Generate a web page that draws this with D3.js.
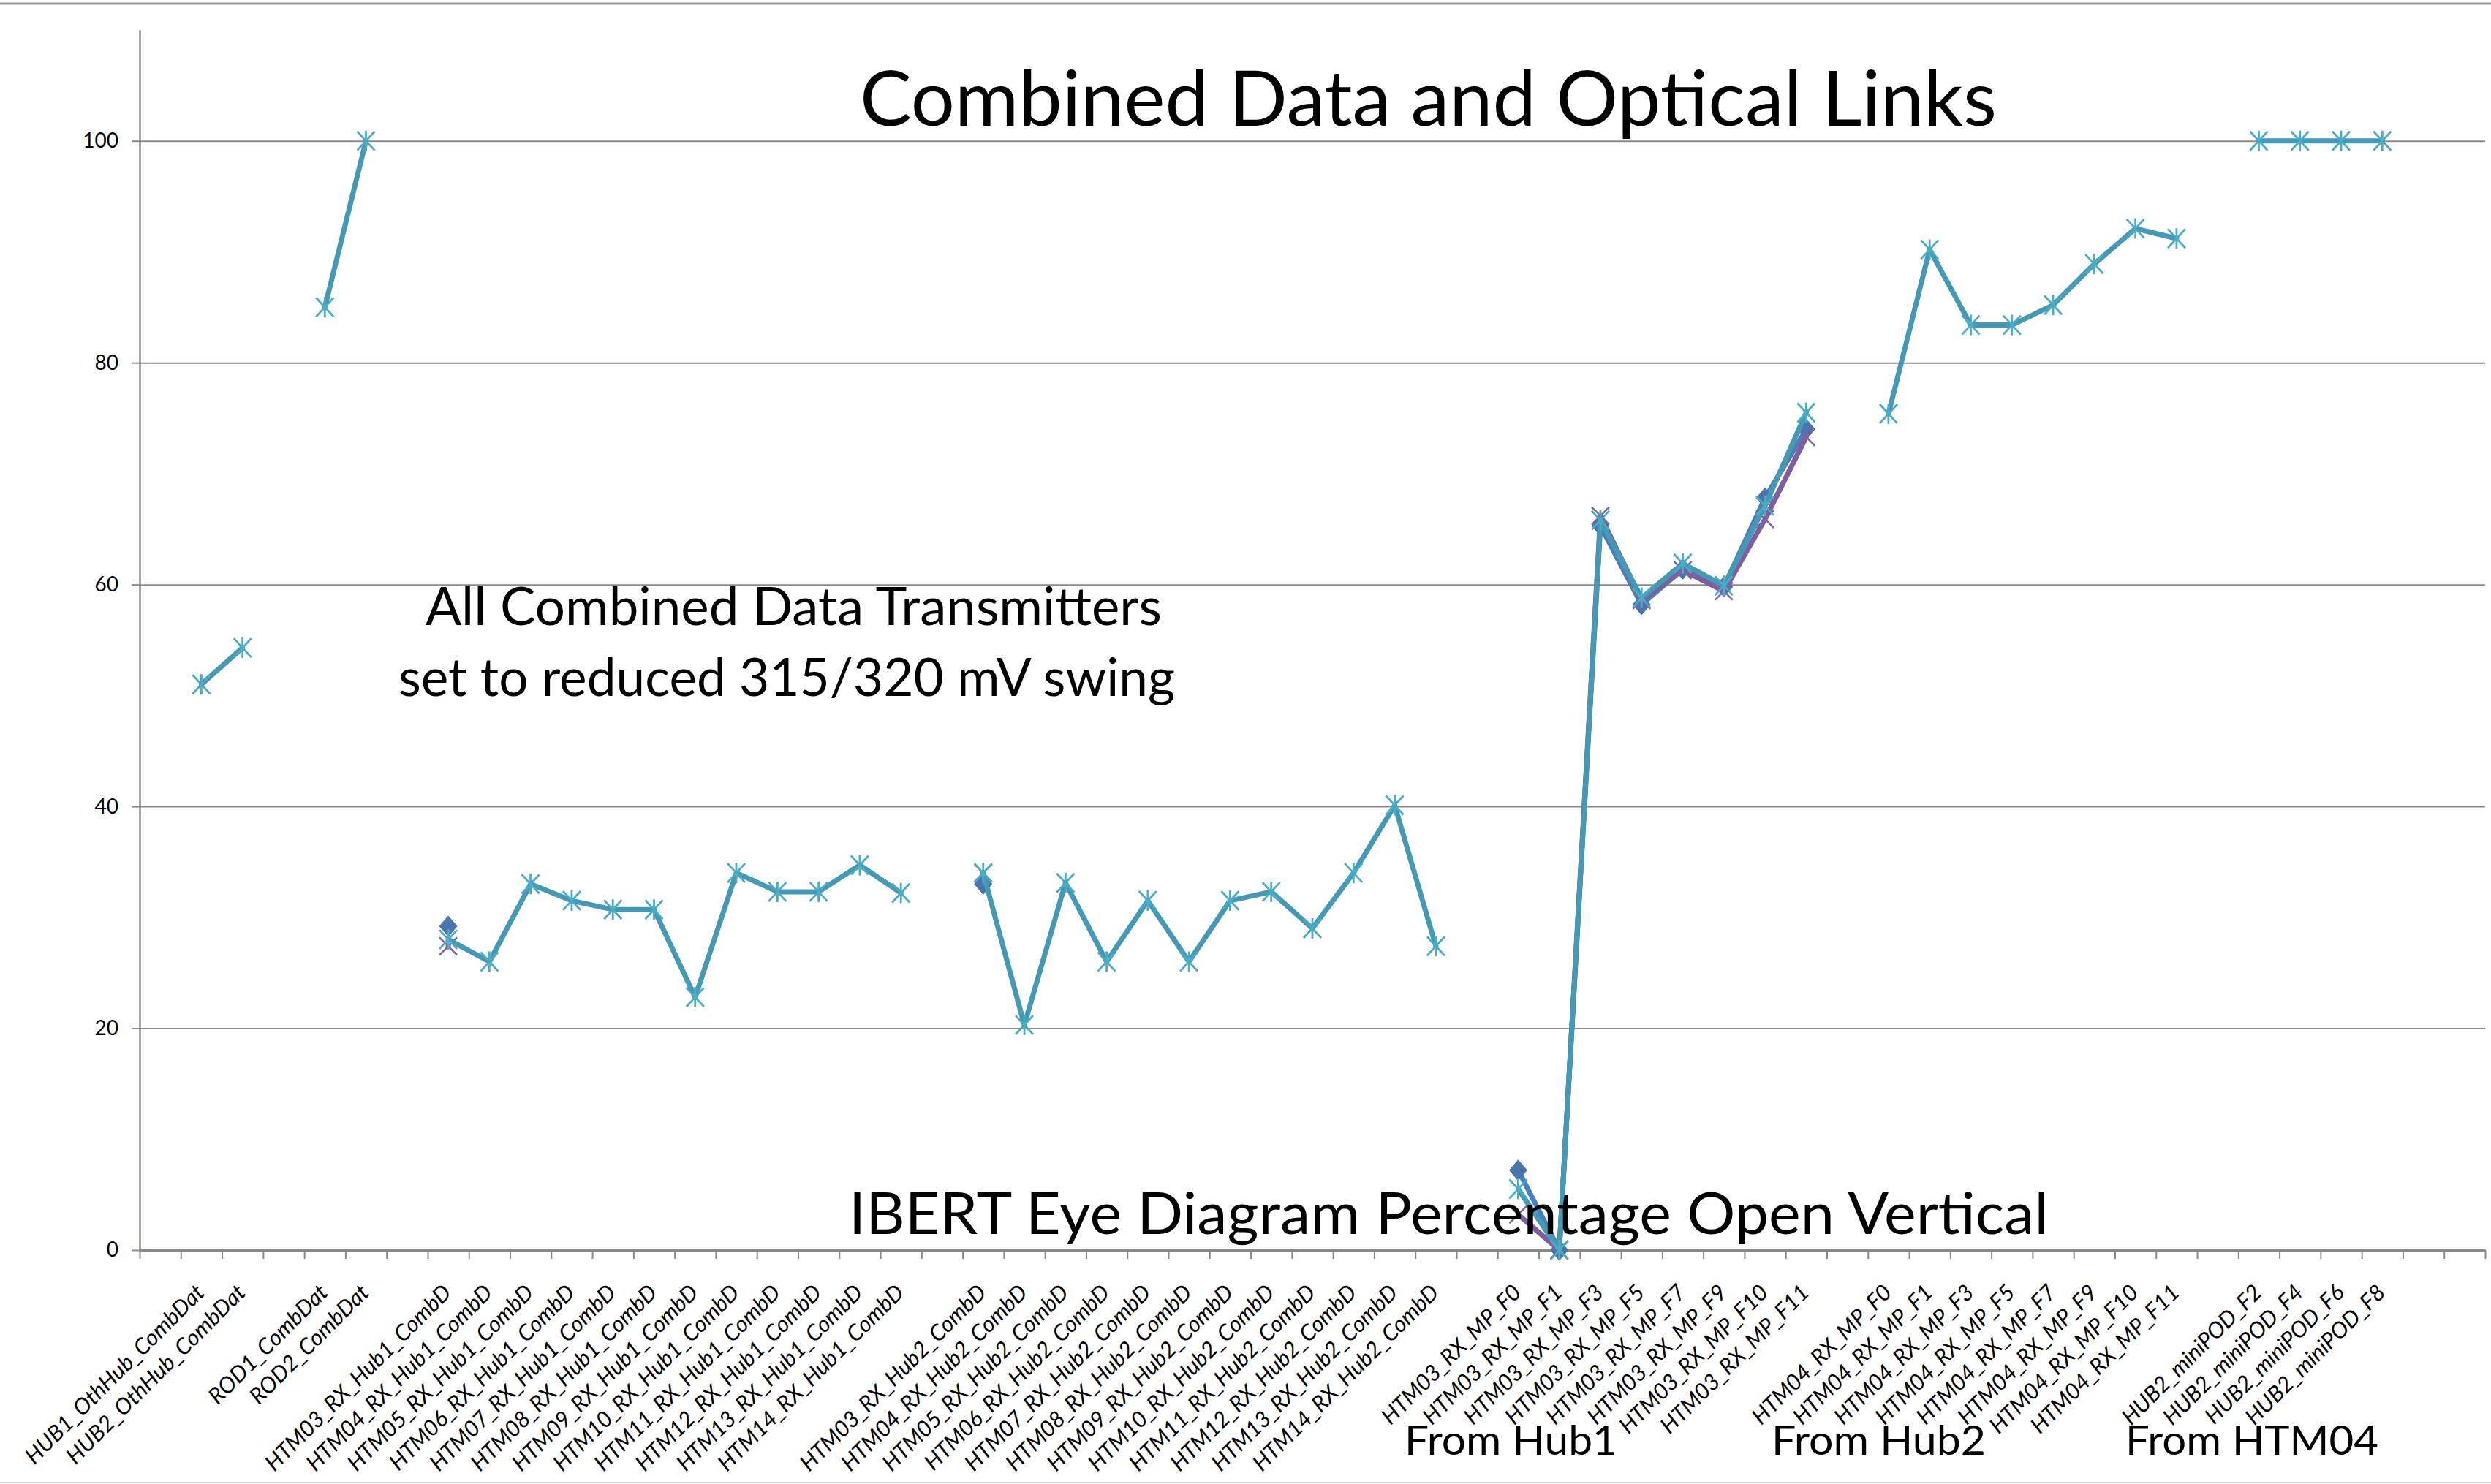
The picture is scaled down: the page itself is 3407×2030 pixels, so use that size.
<!DOCTYPE html>
<html><head><meta charset="utf-8">
<script src="https://cdn.jsdelivr.net/npm/d3@7"></script>
<style>html,body{margin:0;padding:0;background:#fff;overflow:hidden;} svg{display:block;}</style>
</head><body>
<svg id="chart" width="3407" height="2030"></svg>
<script>
// ---------------- DATA ----------------
const categories = [
  "", "HUB1_OthHub_CombDat", "HUB2_OthHub_CombDat", "", "ROD1_CombDat", "ROD2_CombDat", "",
  "HTM03_RX_Hub1_CombD", "HTM04_RX_Hub1_CombD", "HTM05_RX_Hub1_CombD", "HTM06_RX_Hub1_CombD",
  "HTM07_RX_Hub1_CombD", "HTM08_RX_Hub1_CombD", "HTM09_RX_Hub1_CombD", "HTM10_RX_Hub1_CombD",
  "HTM11_RX_Hub1_CombD", "HTM12_RX_Hub1_CombD", "HTM13_RX_Hub1_CombD", "HTM14_RX_Hub1_CombD", "",
  "HTM03_RX_Hub2_CombD", "HTM04_RX_Hub2_CombD", "HTM05_RX_Hub2_CombD", "HTM06_RX_Hub2_CombD",
  "HTM07_RX_Hub2_CombD", "HTM08_RX_Hub2_CombD", "HTM09_RX_Hub2_CombD", "HTM10_RX_Hub2_CombD",
  "HTM11_RX_Hub2_CombD", "HTM12_RX_Hub2_CombD", "HTM13_RX_Hub2_CombD", "HTM14_RX_Hub2_CombD", "",
  "HTM03_RX_MP_F0", "HTM03_RX_MP_F1", "HTM03_RX_MP_F3", "HTM03_RX_MP_F5", "HTM03_RX_MP_F7",
  "HTM03_RX_MP_F9", "HTM03_RX_MP_F10", "HTM03_RX_MP_F11", "",
  "HTM04_RX_MP_F0", "HTM04_RX_MP_F1", "HTM04_RX_MP_F3", "HTM04_RX_MP_F5", "HTM04_RX_MP_F7",
  "HTM04_RX_MP_F9", "HTM04_RX_MP_F10", "HTM04_RX_MP_F11", "",
  "HUB2_miniPOD_F2", "HUB2_miniPOD_F4", "HUB2_miniPOD_F6", "HUB2_miniPOD_F8", "", ""
];

// Series 5 (aqua, star markers)
const starSeries = [
  null, 51.0, 54.3, null, 85.0, 100, null,
  28.0, 26.0, 33.0, 31.5, 30.7, 30.7, 22.8, 34.0, 32.3, 32.3, 34.7, 32.2, null,
  34.0, 20.3, 33.1, 26.0, 31.5, 26.0, 31.5, 32.3, 29.0, 34.0, 40.1, 27.4, null,
  5.5, 0, 65.8, 58.8, 61.9, 59.9, 67.1, 75.5, null,
  75.4, 90.2, 83.4, 83.4, 85.2, 88.9, 92.1, 91.2, null,
  100, 100, 100, 100, null, null
];

// Series 1 (blue, diamond markers)
const diamondSeries = [
  null, null, null, null, null, null, null,
  29.2, null, null, null, null, null, null, null, null, null, null, null, null,
  33.0, null, null, null, null, null, null, null, null, null, null, null, null,
  7.2, 0, 65.3, 58.2, 61.4, 59.8, 67.8, 74.0, null,
  null, null, null, null, null, null, null, null, null,
  null, null, null, null, null, null
];

// Series 4 (purple, x markers)
const crossSeries = [
  null, null, null, null, null, null, null,
  27.4, null, null, null, null, null, null, null, null, null, null, null, null,
  34.0, null, null, null, null, null, null, null, null, null, null, null, null,
  3.2, 0, 66.2, 58.6, 61.3, 59.4, 65.9, 73.3, null,
  null, null, null, null, null, null, null, null, null,
  null, null, null, null, null, null
];

const yTicks = [0, 20, 40, 60, 80, 100];
const yMax = 110;
const titleText = "Combined Data and Optical Links";
const noteLines = ["All Combined Data Transmitters", "set to reduced 315/320 mV swing"];
const axisTitleText = "IBERT Eye Diagram Percentage Open Vertical";
const groupLabels = ["From Hub1", "From Hub2", "From HTM04"];

// ---------------- LAYOUT ----------------
const W = 3407, H = 2030;
const plotL = 191, plotR = 3399, plotB = 1710, plotT = 41;
const FONT = "Lato, 'Open Sans', sans-serif";
const gridColor = "#8a8a8a";

const svg = d3.select("#chart");
svg.append("rect").attr("width", W).attr("height", H).attr("fill", "#fff");

const n = categories.length;
const x = d3.scaleBand().domain(d3.range(n)).range([plotL, plotR]);
const xEdge = d3.scaleLinear().domain([0, n]).range([plotL, plotR]);
const y = d3.scaleLinear().domain([0, yMax]).range([plotB, plotT]);
const cx = i => x(i) + x.bandwidth() / 2;

// frame lines
svg.append("line").attr("x1", 0).attr("x2", W).attr("y1", 5).attr("y2", 5)
  .attr("stroke", "#9a9a9a").attr("stroke-width", 3);
svg.append("line").attr("x1", 0).attr("x2", W).attr("y1", 2028).attr("y2", 2028)
  .attr("stroke", "#d0d0d0").attr("stroke-width", 2);

// gridlines
svg.append("g").attr("transform", `translate(${plotL},0)`)
  .call(d3.axisLeft(y).tickValues(yTicks.filter(v => v > 0)).tickSize(-(plotR - plotL)).tickFormat(""))
  .call(g => g.select(".domain").remove())
  .call(g => g.selectAll("line").attr("stroke", gridColor).attr("stroke-width", 2));

// y axis
svg.append("g").attr("transform", `translate(${plotL},0)`)
  .call(d3.axisLeft(y).tickValues(yTicks).tickSize(11).tickSizeOuter(0).tickPadding(18))
  .call(g => g.select(".domain").attr("stroke", gridColor).attr("stroke-width", 2.5))
  .call(g => g.selectAll(".tick line").attr("stroke", gridColor).attr("stroke-width", 2))
  .call(g => g.selectAll("text").attr("font-family", FONT).attr("font-size", 28).attr("fill", "#000"));

// x axis
svg.append("g").attr("transform", `translate(0,${plotB})`)
  .call(d3.axisBottom(xEdge).tickValues(d3.range(n + 1)).tickSize(12).tickSizeOuter(0).tickFormat(""))
  .call(g => g.select(".domain").attr("stroke", gridColor).attr("stroke-width", 3))
  .call(g => g.selectAll(".tick line").attr("stroke", gridColor).attr("stroke-width", 2));

// category labels (rotated, italic)
const probe = svg.append("text").attr("font-family", FONT).attr("font-style", "italic")
  .attr("font-size", 100).text("HTM03_RX_Hub1_CombD");
const labelSize = 100 * 345 / probe.node().getComputedTextLength();
probe.remove();

svg.append("g").selectAll("text")
  .data(categories.map((c, i) => ({ c, i })).filter(d => d.c))
  .join("text")
  .attr("transform", d => `translate(${cx(d.i) + 6},1770) rotate(-45)`)
  .attr("text-anchor", "end")
  .attr("font-family", FONT).attr("font-style", "italic")
  .attr("font-size", labelSize).attr("fill", "#000")
  .text(d => d.c);

// ---------------- SERIES ----------------
function drawSeries(values, lineColor, markerPath, markerStyle) {
  const pts = values.map((v, i) => ({ v, i }));
  const line = d3.line().defined(d => d.v != null).x(d => cx(d.i)).y(d => y(d.v));
  svg.append("path").datum(pts).attr("d", line)
    .attr("fill", "none").attr("stroke", lineColor).attr("stroke-width", 7)
    .attr("stroke-linejoin", "round").attr("stroke-linecap", "round");
  const m = svg.append("g").selectAll("path").data(pts.filter(d => d.v != null)).join("path")
    .attr("transform", d => `translate(${cx(d.i)},${y(d.v)})`)
    .attr("d", markerPath);
  markerStyle(m);
}

const diamondPath = "M0,-14L12,0L0,14L-12,0Z";
const crossPath = "M-12,-12L12,12M-12,12L12,-12";
const starPath = "M-12,-13L12,13M-12,13L12,-13M0,-14L0,14";

drawSeries(diamondSeries, "#4A7EBB", diamondPath,
  m => m.attr("fill", "#4A74AD").attr("stroke", "#4A74AD").attr("stroke-width", 1));
drawSeries(crossSeries, "#7D5F9F", crossPath,
  m => m.attr("fill", "none").attr("stroke", "#8064A2").attr("stroke-width", 2.5));
drawSeries(starSeries, "#4599B5", starPath,
  m => m.attr("fill", "none").attr("stroke", "#4BACC6").attr("stroke-width", 2.8));

// ---------------- TEXTS ----------------
function fitText(str, x0, x1, baseline, size) {
  svg.append("text").attr("x", x0).attr("y", baseline)
    .attr("font-family", FONT).attr("font-size", size).attr("fill", "#000")
    .attr("textLength", x1 - x0).attr("lengthAdjust", "spacingAndGlyphs")
    .text(str);
}
fitText(titleText, 1176, 2731, 172, 105);
fitText(noteLines[0], 582, 1589, 855, 71);
fitText(noteLines[1], 545, 1607, 952, 71);
fitText(axisTitleText, 1161, 2802, 1688, 80);
fitText(groupLabels[0], 1921, 2212, 1990, 57);
fitText(groupLabels[1], 2423, 2716, 1990, 57);
fitText(groupLabels[2], 2907, 3253, 1990, 57);
</script>
</body></html>
